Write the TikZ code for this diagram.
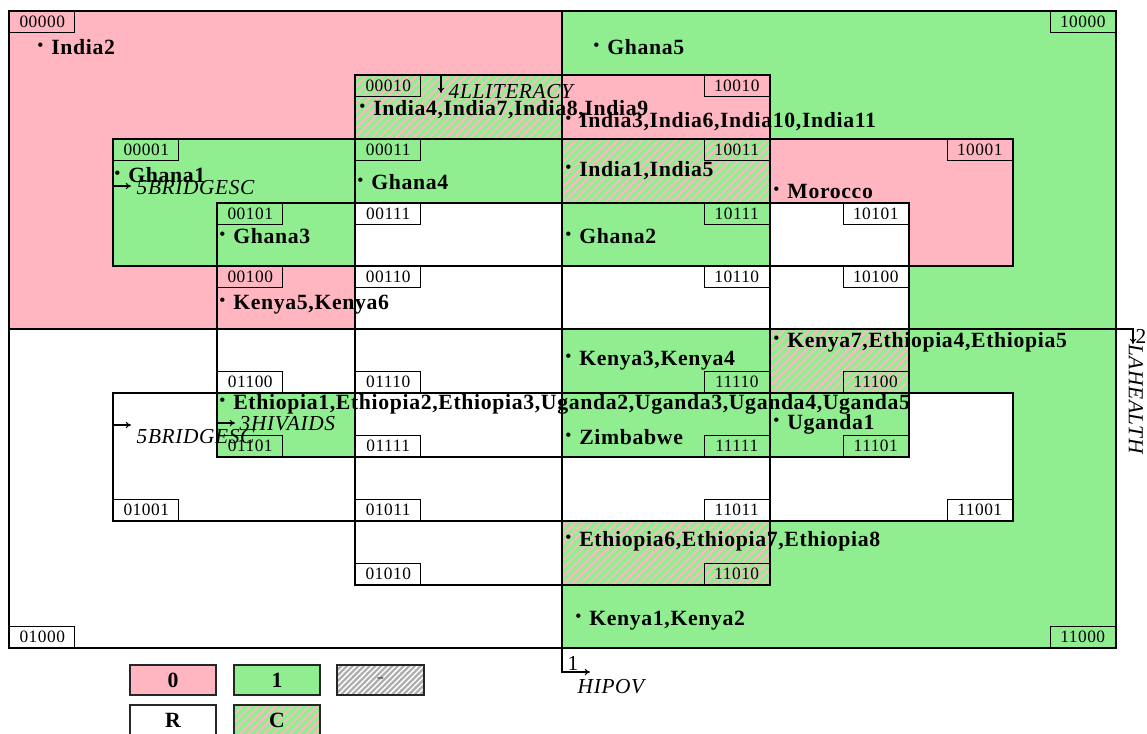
\documentclass[tikz,border=0pt]{standalone}
\usepackage{fontspec}
\setmainfont{Liberation Serif}
\newfontfamily\entryfont[LetterSpace=3]{Liberation Serif}
\usetikzlibrary{patterns.meta,arrows.meta}
\definecolor{lpink}{HTML}{FFB6C1}
\definecolor{lgreen}{HTML}{90EE90}
\newcommand\bul{\raisebox{3.0pt}{\fontsize{12}{12}\selectfont •}\hspace{6pt}}
\begin{document}
\begin{tikzpicture}[x=0.75pt,y=-0.75pt,line width=1.1pt,
  pinkcell/.style={fill=lpink},
  greencell/.style={fill=lgreen},
  hatchcell/.style={preaction={fill=lgreen},pattern={Lines[angle=45,distance=4.4pt,line width=1.5pt]},pattern color=lpink},
  grayhatch/.style={preaction={fill=black!32},pattern={Lines[angle=45,distance=3pt,line width=1.1pt]},pattern color=white},
  code/.style={draw,minimum width=48.75pt,minimum height=15.75pt,inner sep=0pt,font=\fontsize{13}{13}\entryfont},
  entry/.style={anchor=west,inner sep=0pt,font=\fontsize{16.3}{18}\entryfont\bfseries},
  varlab/.style={inner sep=0pt,font=\fontsize{16}{18}\entryfont\itshape},
  varnum/.style={inner sep=0pt,font=\fontsize{16}{18}\entryfont},
  vararrow/.style={-{To[length=4pt,width=5pt]},line width=0.8pt},
  legbox/.style={draw=black!85,line width=1.5pt,minimum width=65pt,minimum height=23pt,inner sep=0pt,font=\fontsize{16.3}{18}\entryfont\bfseries}
]
\useasboundingbox (0,0) rectangle (1147,733);
\clip (0,0) rectangle (1147,733);
% base quadrants
\fill[pinkcell] (9,11) rectangle (562,329);
\fill[greencell] (562,11) rectangle (1116,329);
\fill[greencell] (562,329) rectangle (1116,648);
% var5 rectangles (outside var3/var4)
\fill[greencell] (113,139) rectangle (355,266);
\fill[pinkcell] (770,139) rectangle (1013,266);
\fill[white] (113,393) rectangle (562,521);
\fill[white] (770,393) rectangle (1013,521);
% var4 cells
\fill[hatchcell] (355,75) rectangle (562,139);
\fill[pinkcell] (562,75) rectangle (770,139);
\fill[greencell] (355,139) rectangle (562,203);
\fill[hatchcell] (562,139) rectangle (770,203);
\fill[white] (355,203) rectangle (562,329);
\fill[greencell] (562,203) rectangle (770,266);
\fill[white] (562,266) rectangle (770,329);
\fill[greencell] (562,329) rectangle (770,457);
\fill[white] (562,457) rectangle (770,521);
\fill[hatchcell] (562,521) rectangle (770,585);
% var3 cells outside var4
\fill[greencell] (217,203) rectangle (355,266);
\fill[pinkcell] (217,266) rectangle (355,329);
\fill[white] (770,203) rectangle (909,329);
\fill[white] (217,329) rectangle (355,393);
\fill[greencell] (217,393) rectangle (355,457);
\fill[hatchcell] (770,329) rectangle (909,393);
\fill[greencell] (770,393) rectangle (909,457);
% outlines
\draw (9,11) rectangle (1116,648);
\draw (562,11) -- (562,648);
\draw (9,329) -- (1116,329);
\draw (217,203) rectangle (909,457);
\draw (355,75) rectangle (770,585);
\draw (113,139) rectangle (1013,266);
\draw (113,393) rectangle (1013,521);
% code labels
\node[code,anchor=north west] (l00000) at (9,11) {00000};
\node[code,anchor=north west] (l00010) at (355,75) {00010};
\node[code,anchor=north west] (l00001) at (113,139) {00001};
\node[code,anchor=north west] (l00011) at (355,139) {00011};
\node[code,anchor=north west] (l00101) at (217,203) {00101};
\node[code,anchor=north west] (l00111) at (355,203) {00111};
\node[code,anchor=north west] (l00100) at (217,266) {00100};
\node[code,anchor=north west] (l00110) at (355,266) {00110};
\node[code,anchor=north east] (l10000) at (1116,11) {10000};
\node[code,anchor=north east] (l10010) at (770,75) {10010};
\node[code,anchor=north east] (l10011) at (770,139) {10011};
\node[code,anchor=north east] (l10001) at (1013,139) {10001};
\node[code,anchor=north east] (l10111) at (770,203) {10111};
\node[code,anchor=north east] (l10101) at (909,203) {10101};
\node[code,anchor=north east] (l10110) at (770,266) {10110};
\node[code,anchor=north east] (l10100) at (909,266) {10100};
\node[code,anchor=south west] (l01100) at (217,393) {01100};
\node[code,anchor=south west] (l01110) at (355,393) {01110};
\node[code,anchor=south west] (l01101) at (217,457) {01101};
\node[code,anchor=south west] (l01111) at (355,457) {01111};
\node[code,anchor=south west] (l01001) at (113,521) {01001};
\node[code,anchor=south west] (l01011) at (355,521) {01011};
\node[code,anchor=south west] (l01010) at (355,585) {01010};
\node[code,anchor=south west] (l01000) at (9,648) {01000};
\node[code,anchor=south east] (l11110) at (770,393) {11110};
\node[code,anchor=south east] (l11100) at (909,393) {11100};
\node[code,anchor=south east] (l11111) at (770,457) {11111};
\node[code,anchor=south east] (l11101) at (909,457) {11101};
\node[code,anchor=south east] (l11011) at (770,521) {11011};
\node[code,anchor=south east] (l11001) at (1013,521) {11001};
\node[code,anchor=south east] (l11010) at (770,585) {11010};
\node[code,anchor=south east] (l11000) at (1116,648) {11000};
% variable arrows
\coordinate (v4a) at (441,75); \coordinate (v4b) at (441,93);
\draw[vararrow] (v4a) -- (v4b);
\node[varlab,anchor=west] (v4t) at (448,92) {4LLITERACY};
\coordinate (v5a) at (113,186); \coordinate (v5b) at (131,186);
\draw[vararrow] (v5a) -- (v5b);
\node[varlab,anchor=west] (v5t) at (136,188) {5BRIDGESC};
\coordinate (v5c) at (113,425); \coordinate (v5d) at (131,425);
\draw[vararrow] (v5c) -- (v5d);
\node[varlab,anchor=west] (v5u) at (136,437) {5BRIDGESC};
\coordinate (v3a) at (217,423); \coordinate (v3b) at (235,423);
\draw[vararrow] (v3a) -- (v3b);
\node[varlab,anchor=west] (v3t) at (239,424) {3HIVAIDS};
\coordinate (v2a) at (1116,329); \coordinate (v2k) at (1133,329); \coordinate (v2b) at (1133,344);
\draw[vararrow] (v2a) -- (v2k) -- (v2b);
\node[varnum] (v2n) at (1141,336) {2};
\node[varlab,rotate=-90] (v2t) at (1136,399) {LAHEALTH};
\coordinate (v1a) at (562,648); \coordinate (v1k) at (562,672); \coordinate (v1b) at (590,672);
\draw[vararrow] (v1a) -- (v1k) -- (v1b);
\node[varnum] (v1n) at (573,663) {1};
\node[varlab] (v1t) at (611,687) {HIPOV};
% entries
\node[entry] (e1) at (37,47) {\bul India2};
\node[entry] (e2) at (593,47) {\bul Ghana5};
\node[entry] (e3) at (565,122) {\bul India3,India6,India10,India11};
\node[entry] (e4) at (359,110) {\bul India4,India7,India8,India9};
\node[entry] (e5) at (114,175) {\bul Ghana1};
\node[entry] (e6) at (357,182) {\bul Ghana4};
\node[entry] (e7) at (565,171) {\bul India1,India5};
\node[entry] (e8) at (773,191) {\bul Morocco};
\node[entry] (e9) at (219,236) {\bul Ghana3};
\node[entry] (e10) at (565,236) {\bul Ghana2};
\node[entry] (e11) at (219,305) {\bul Kenya5,Kenya6};
\node[entry] (e12) at (773,342) {\bul Kenya7,Ethiopia4,Ethiopia5};
\node[entry] (e13) at (565,361) {\bul Kenya3,Kenya4};
\node[entry] (e14) at (219,404) {\bul Ethiopia1,Ethiopia2,Ethiopia3,Uganda2,Uganda3,Uganda4,Uganda5};
\node[entry] (e15) at (565,437) {\bul Zimbabwe};
\node[entry] (e16) at (773,424) {\bul Uganda1};
\node[entry] (e17) at (565,541) {\bul Ethiopia6,Ethiopia7,Ethiopia8};
\node[entry] (e18) at (575,621) {\bul Kenya1,Kenya2};
% legend
\node[legbox,fill=lpink] (g0) at (173,680) {0};
\node[legbox,fill=lgreen] (g1) at (277,680) {1};
\node[legbox,grayhatch] (gd) at (380.5,680) {\textcolor{black!60}{-}};
\node[legbox,fill=white] (gr) at (173,720) {R};
\node[legbox,hatchcell] (gc) at (277,720) {C};
\end{tikzpicture}
\end{document}
